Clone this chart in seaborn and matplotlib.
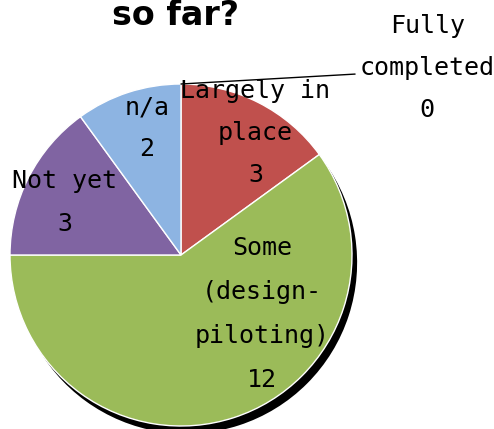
import matplotlib
matplotlib.use("Agg")
import matplotlib.pyplot as plt
import seaborn as sns

# ---- data ----
categories = ["Fully\ncompleted", "Largely in\nplace", "Some\n(design-\npiloting)", "Not yet", "n/a"]
values = [0, 3, 12, 3, 2]
colors = ["#4F81BD", "#C0504D", "#9BBB59", "#8064A2", "#8DB4E2"]
title = "so far?"

# ---- layout (not data) ----
label_pos = [(1.44, 1.094), (0.435, 0.713), (0.474, -0.345), (-0.68, 0.307), (-0.20, 0.74)]
label_spacing = [1.95, 1.95, 2.05, 1.95, 1.95]

sns.set_theme(style="white")
plt.rcParams["font.family"] = ["DejaVu Sans Mono", "DejaVu Sans"]

fig = plt.figure(figsize=(4.94, 4.29), dpi=100)
ax = fig.add_axes([0, 0, 1, 1])

# drop shadow: same pie in black, offset down-right, behind
ax.pie(values, colors=["black"] * len(values), startangle=90, counterclock=False,
       radius=1.0, center=(0.03, -0.045), wedgeprops=dict(linewidth=0, zorder=0))

wedges, _ = ax.pie(
    values,
    colors=sns.color_palette(colors),
    startangle=90,
    counterclock=False,
    radius=1.0,
    wedgeprops=dict(edgecolor="white", linewidth=1.0, zorder=1),
)

for cat, val, (x, y), ls in zip(categories, values, label_pos, label_spacing):
    ax.text(x, y, f"{cat}\n{val}", ha="center", va="center",
            fontsize=18, linespacing=ls, color="black", zorder=3)

# leader line for zero-value slice
ax.plot([0.0, 1.018], [1.0, 1.058], color="black", lw=1.0, zorder=3)

ax.set_xlim(-181 / 171, (494 - 181) / 171)
ax.set_ylim(-(429 - 255) / 171, 255 / 171)
ax.set_aspect("auto")
ax.axis("off")

fig.text(176 / 494, 1 - 25 / 429, title, ha="center", va="baseline",
         fontsize=24, fontweight="bold", color="black", family="DejaVu Sans")

fig.savefig("out.png", dpi=100)
